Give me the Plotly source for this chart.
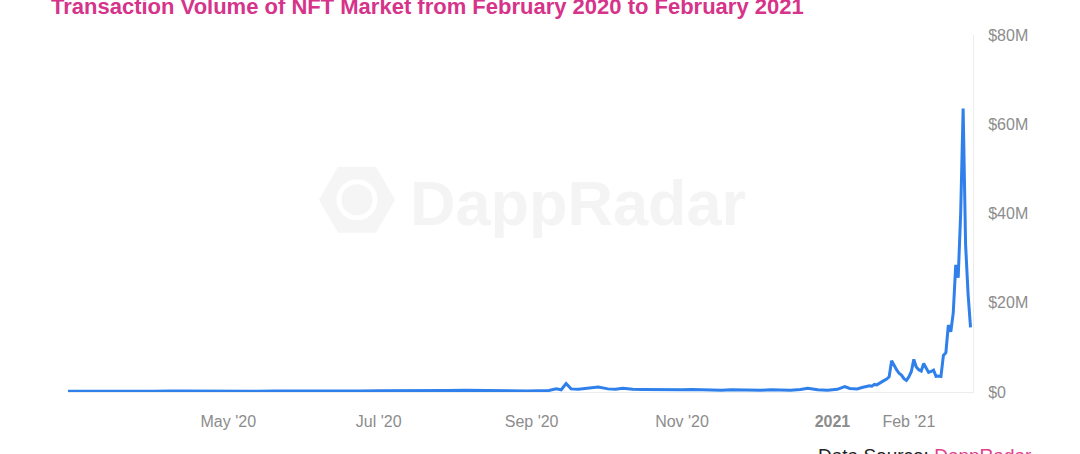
import pandas as pd
import plotly.graph_objects as go

# ---- data (USD millions) ----
# weekly, late Feb 2020 -> late Aug 2020 (flat period)
dates_flat = pd.date_range("2020-02-26", periods=27, freq="7D")
vol_flat = [0.15, 0.12, 0.14, 0.18, 0.13, 0.15, 0.20, 0.17, 0.22, 0.25, 0.20, 0.18, 0.22,
            0.20, 0.18, 0.20, 0.22, 0.25, 0.30, 0.28, 0.35, 0.30, 0.32, 0.38, 0.30, 0.35, 0.30]

# Sep 2020 -> mid Jan 2021
dates_mid = ["2020-08-30", "2020-09-04", "2020-09-08", "2020-09-11", "2020-09-13", "2020-09-15",
             "2020-09-17", "2020-09-20", "2020-09-24", "2020-09-28", "2020-10-02", "2020-10-05",
             "2020-10-08", "2020-10-12", "2020-10-16", "2020-10-20", "2020-10-24", "2020-10-28",
             "2020-11-01", "2020-11-05", "2020-11-09", "2020-11-13", "2020-11-17", "2020-11-21",
             "2020-11-25", "2020-11-29", "2020-12-03", "2020-12-07", "2020-12-11", "2020-12-15",
             "2020-12-19", "2020-12-22", "2020-12-26", "2020-12-30", "2021-01-03", "2021-01-06",
             "2021-01-08", "2021-01-11", "2021-01-13"]
vol_mid = [0.25, 0.30, 0.35, 0.70, 0.50, 1.90, 0.70, 0.60, 0.90, 1.10, 0.70, 0.60,
           0.85, 0.60, 0.55, 0.50, 0.60, 0.45, 0.50, 0.55, 0.45, 0.50, 0.40, 0.50,
           0.45, 0.50, 0.40, 0.50, 0.45, 0.40, 0.55, 0.85, 0.50, 0.40, 0.60, 1.20,
           0.80, 0.70, 1.00]

# daily, 15 Jan 2021 -> 26 Feb 2021
dates_end = pd.date_range("2021-01-15", "2021-02-26", freq="D")
vol_end = [1.2, 1.4, 1.3, 1.7, 1.6, 2.0, 2.4, 2.6, 2.9, 3.4, 7.0, 5.8, 5.0, 4.2, 3.8, 3.0, 2.6,
           3.4, 4.6, 7.3, 5.6, 5.0, 4.7, 6.4, 5.2, 4.4, 4.6, 4.9, 3.5, 3.6, 3.5, 8.2, 8.8,
           15.0, 13.5, 17.8, 28.5, 25.6, 40.0, 63.5, 33.0, 22.0, 14.5]

dates = list(dates_flat) + list(pd.to_datetime(dates_mid)) + list(dates_end)
volume = vol_flat + vol_mid + vol_end

x_tick_vals = ["2020-05-01", "2020-07-01", "2020-09-01", "2020-11-01", "2021-01-01", "2021-02-01"]
x_tick_text = ["May '20", "Jul '20", "Sep '20", "Nov '20", "<b>2021</b>", "Feb '21"]
y_tick_vals = [0, 20, 40, 60, 80]
y_tick_text = ["$0", "$20M", "$40M", "$60M", "$80M"]

title = "Transaction Volume of NFT Market from February 2020 to February 2021"

FONT = "Liberation Sans, Arial, Helvetica, sans-serif"
PINK = "#d6338a"

W, H = 1080, 454
L, R, T, B = 68, 973, 35, 392.5   # plot area in page pixels
PW, PH = R - L, B - T

def px(x):
    return (x - L) / PW

def py(y):
    return (B - y) / PH

fig = go.Figure()
fig.add_trace(go.Scatter(
    x=dates, y=volume, mode="lines",
    line=dict(color="#2f80ea", width=3),
    hoverinfo="x+y", showlegend=False,
))

fig.update_layout(
    width=W, height=H,
    margin=dict(l=L, r=W - R, t=T, b=H - B),
    paper_bgcolor="white", plot_bgcolor="white",
    font=dict(family=FONT, size=16, color="#8c8c8c"),
    xaxis=dict(
        range=["2020-02-26", "2021-02-27"],
        tickvals=x_tick_vals, ticktext=x_tick_text,
        showgrid=False, zeroline=False,
        showline=True, linecolor="#ececec", linewidth=1,
        ticks="", ticklabelstandoff=15,
        tickfont=dict(size=16, color="#8c8c8c"),
    ),
    yaxis=dict(
        range=[0, 80], side="right",
        tickvals=y_tick_vals, ticktext=y_tick_text,
        showgrid=False, zeroline=False,
        showline=True, linecolor="#ececec", linewidth=1,
        ticks="", ticklabelstandoff=11,
        tickfont=dict(size=16, color="#8c8c8c"),
    ),
)

# watermark hexagon + text
fig.add_shape(
    type="path", xref="paper", yref="paper",
    xsizemode="pixel", ysizemode="pixel",
    xanchor=px(357), yanchor=py(200),
    path="M -38 0 L -19 33 L 19 33 L 38 0 L 19 -33 L -19 -33 Z",
    fillcolor="#f5f5f5", line=dict(width=0), layer="below",
)
fig.add_shape(
    type="circle", xref="paper", yref="paper",
    xsizemode="pixel", ysizemode="pixel",
    xanchor=px(357), yanchor=py(200),
    x0=-18, x1=18, y0=-18, y1=18,
    fillcolor="rgba(0,0,0,0)", line=dict(width=5, color="white"), layer="below",
)
fig.add_annotation(
    text="<b>DappRadar</b>", xref="paper", yref="paper",
    x=px(578), y=py(203),
    xanchor="center", yanchor="middle", showarrow=False,
    font=dict(family=FONT, size=63, color="#f4f4f4"),
)

# title
fig.add_annotation(
    text="<b>" + title + "</b>", xref="paper", yref="paper",
    x=px(49), y=py(-8),
    xanchor="left", yanchor="top", showarrow=False,
    font=dict(family=FONT, size=22, color=PINK),
)

# data source
fig.add_annotation(
    text="Data Source: <span style='color:#e0408c'>DappRadar</span>",
    xref="paper", yref="paper",
    x=px(816), y=py(444),
    xanchor="left", yanchor="top", showarrow=False,
    font=dict(family=FONT, size=19, color="#222222"),
)

fig.write_html("out.html", config={"displayModeBar": False},
               post_script="document.body.style.margin='0';")
